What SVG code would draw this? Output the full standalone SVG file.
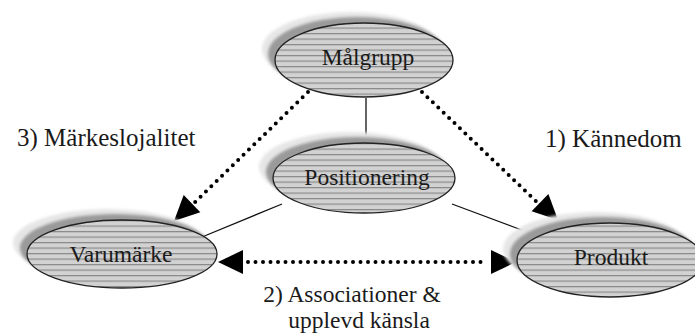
<svg xmlns="http://www.w3.org/2000/svg" width="695" height="334" viewBox="0 0 695 334">
<defs>
<pattern id="hatch" patternUnits="userSpaceOnUse" width="10" height="5.5">
<rect width="10" height="5.5" fill="#d2d2d2"/>
<rect y="0" width="10" height="1.2" fill="#8a8a8a"/>
</pattern>
<filter id="soft" x="-20%" y="-20%" width="140%" height="140%"><feGaussianBlur stdDeviation="1.5"/></filter>
</defs>
<style>
.sh1{fill:#e6e6e6;filter:url(#soft)}
.sh2{fill:#9a9a9a;filter:url(#soft)}
.body{fill:url(#hatch);stroke:#222;stroke-width:1.3}
text{font-family:"Liberation Serif","Times New Roman","DejaVu Serif","Noto Serif",serif;fill:#1a1a1a}
.lbl{font-size:23.5px;text-anchor:middle}
.txt{font-size:25px}
.txt2{font-size:23.5px;text-anchor:middle}
.dot{fill:none;stroke:#000;stroke-width:4;stroke-linecap:round;stroke-dasharray:0 7.5}
.ln{stroke:#111;stroke-width:1.3;fill:none}
</style>
<g id="connectors">
<line class="ln" x1="366" y1="98" x2="366" y2="143"/>
<line class="ln" x1="282" y1="204" x2="202" y2="237"/>
<line class="ln" x1="452" y1="204" x2="535" y2="235"/>
<line class="dot" x1="308" y1="92" x2="190" y2="207"/>
<path d="M174,221 L183.7,195 L200.3,212.2 z" fill="#000"/>
<line class="dot" x1="422" y1="92" x2="540" y2="205"/>
<path d="M558,220 L531.6,211.2 L548.4,194 z" fill="#000"/>
<line class="dot" x1="248" y1="262" x2="488" y2="262"/>
<path d="M218,262 L243,250 L243,274 z" fill="#000"/>
<path d="M516,262 L491,250 L491,274 z" fill="#000"/>
</g>
<g id="malgrupp">
<ellipse class="sh1" cx="351" cy="49" rx="89" ry="37"/>
<ellipse class="sh2" cx="357" cy="54" rx="89" ry="37"/>
<ellipse class="body" cx="364" cy="60" rx="89" ry="37"/>
<text class="lbl" x="368" y="65">Målgrupp</text>
</g>
<g id="positionering">
<ellipse class="sh1" cx="350" cy="167" rx="91" ry="35"/>
<ellipse class="sh2" cx="357" cy="172" rx="91" ry="35"/>
<ellipse class="body" cx="364" cy="178" rx="91" ry="35"/>
<text class="lbl" x="367" y="185">Positionering</text>
</g>
<g id="varumarke">
<ellipse class="sh1" cx="108" cy="243" rx="95" ry="34"/>
<ellipse class="sh2" cx="115" cy="248" rx="95" ry="34"/>
<ellipse class="body" cx="122" cy="254" rx="95" ry="34"/>
<text class="lbl" x="121" y="262">Varumärke</text>
</g>
<g id="produkt">
<ellipse class="sh1" cx="596" cy="249" rx="93" ry="37"/>
<ellipse class="sh2" cx="603" cy="254" rx="93" ry="37"/>
<ellipse class="body" cx="610" cy="260" rx="93" ry="37"/>
<text class="lbl" x="611" y="265">Produkt</text>
</g>
<g id="labels">
<text class="txt" x="17" y="146">3) Märkeslojalitet</text>
<text class="txt" x="545" y="147">1) Kännedom</text>
<text class="txt2" x="352" y="302">2) Associationer &amp;</text>
<text class="txt2" x="359" y="328">upplevd känsla</text>
</g>
</svg>
